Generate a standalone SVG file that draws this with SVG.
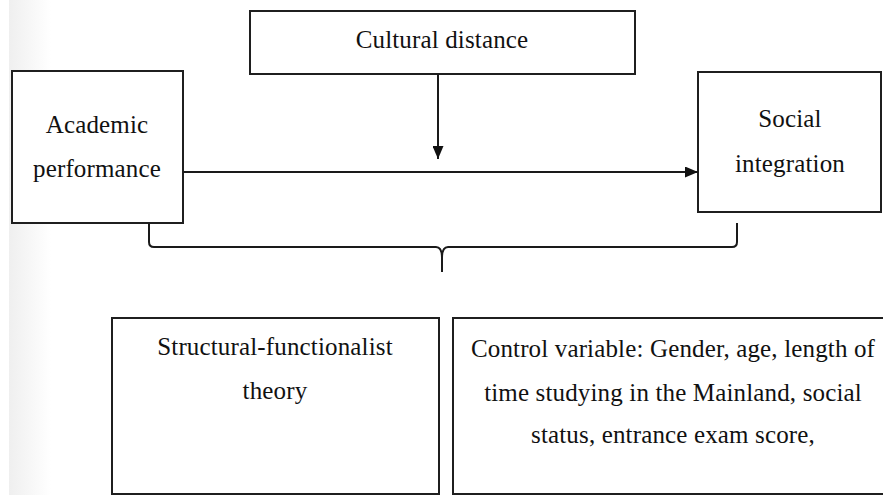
<svg xmlns="http://www.w3.org/2000/svg" width="883" height="495" viewBox="0 0 883 495">
  <defs>
    <linearGradient id="edge" x1="0" y1="0" x2="1" y2="0">
      <stop offset="0" stop-color="#efefef"/>
      <stop offset="1" stop-color="#ffffff"/>
    </linearGradient>
    <marker id="arrow" viewBox="0 0 13 11" refX="13" refY="5.5" markerWidth="13" markerHeight="11" markerUnits="userSpaceOnUse" orient="auto">
      <path d="M0,0 L13,5.5 L0,11 Z" fill="#111111"/>
    </marker>
    <style>
      .box { fill: #ffffff; stroke: #1f1f1f; stroke-width: 2; }
      .lbl { font-family: "Liberation Serif", "Times New Roman", serif; font-size: 25px; fill: #111111; text-anchor: middle; letter-spacing: 0.15px; }
      .conn { fill: none; stroke: #1a1a1a; stroke-width: 2; }
    </style>
  </defs>
  <rect x="0" y="0" width="883" height="495" fill="#ffffff"/>
  <rect x="9" y="0" width="42" height="495" fill="url(#edge)"/>

  <g id="cultural-distance">
    <rect class="box" x="250" y="11" width="385" height="63"/>
    <text class="lbl" x="442" y="48">Cultural distance</text>
  </g>

  <g id="academic-performance">
    <rect class="box" x="12" y="71" width="171" height="152"/>
    <text class="lbl" x="97" y="133">Academic</text>
    <text class="lbl" x="97" y="177">performance</text>
  </g>

  <g id="social-integration">
    <rect class="box" x="698" y="72" width="183" height="140"/>
    <text class="lbl" x="790" y="127">Social</text>
    <text class="lbl" x="790" y="172">integration</text>
  </g>

  <g id="structural-functionalist">
    <rect class="box" x="112" y="318" width="327" height="176"/>
    <text class="lbl" x="275" y="355">Structural-functionalist</text>
    <text class="lbl" x="275" y="399">theory</text>
  </g>

  <g id="control-variable">
    <rect class="box" x="453" y="318" width="440" height="176"/>
    <text class="lbl" x="673" y="357">Control variable: Gender, age, length of</text>
    <text class="lbl" x="673" y="401">time studying in the Mainland, social</text>
    <text class="lbl" x="673" y="443">status, entrance exam score,</text>
  </g>

  <g id="connectors">
    <line class="conn" x1="183" y1="172" x2="698" y2="172" marker-end="url(#arrow)"/>
    <line class="conn" x1="438" y1="74" x2="438" y2="159" marker-end="url(#arrow)"/>
    <path class="conn" d="M149,223 L149,242 Q149,247 154,247 L436,247 Q442,247 442,258 L442,272 M442,258 Q442,247 448,247 L732,247 Q737,247 737,242 L737,223"/>
  </g>
</svg>
